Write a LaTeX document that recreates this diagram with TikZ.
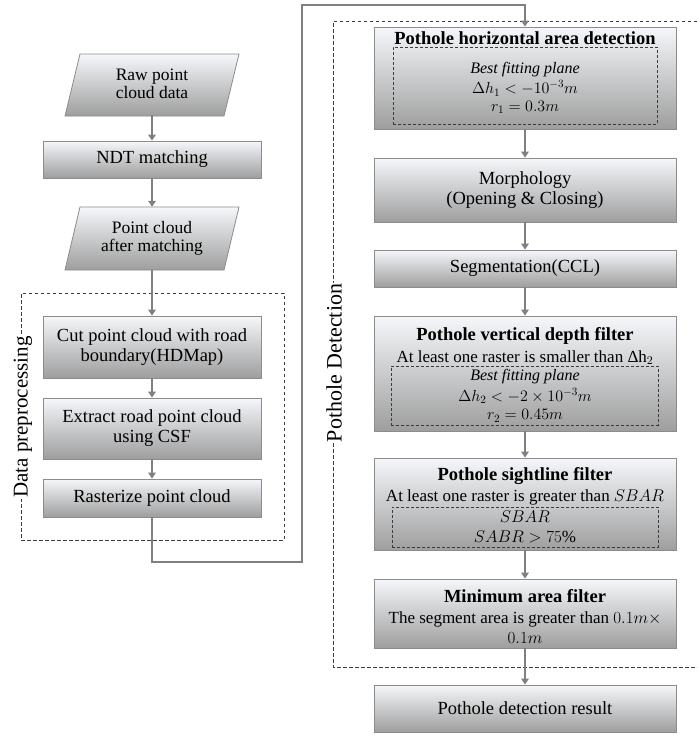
\RequirePackage{fix-cm}
\documentclass[tikz,border=0pt]{standalone}
\usepackage{fontspec}
\setmainfont{Liberation Serif}[Ligatures=TeX]
\usetikzlibrary{arrows.meta}
\definecolor{boxtop}{RGB}{245,247,250}
\definecolor{boxbot}{RGB}{158,158,158}
\definecolor{boxborder}{RGB}{140,140,140}
\definecolor{arrowc}{RGB}{128,128,128}
\definecolor{dashc}{RGB}{60,60,60}
\newcommand\mainsize{\fontsize{18.5}{20}\selectfont}
\newcommand\subsize{\fontsize{17}{20}\selectfont}
\tikzset{
  box/.style={draw=boxborder, line width=0.8pt, top color=boxtop, bottom color=boxbot,
    minimum width=302, inner sep=0, align=center, font=\mainsize},
  lbox/.style={box, minimum width=218},
  para/.style={draw=boxborder, line width=0.8pt, top color=boxtop, bottom color=boxbot},
  innerdash/.style={draw=dashc, dash pattern=on 3pt off 2pt, line width=0.9pt, inner sep=0},
  outerdash/.style={draw=dashc, dash pattern=on 3.5pt off 2.5pt, line width=0.8pt},
  flow/.style={draw=arrowc, line width=2.3pt, -{Triangle[width=7.5pt,length=6pt]}},
  txt/.style={inner sep=0, align=center, font=\mainsize},
}
\begin{document}
\begin{tikzpicture}[x=1pt,y=-1pt]
\useasboundingbox[fill=white] (0,0) rectangle (697,742);

% ---------- left column ----------
\shade[para] (80,54) -- (239,54) -- (224,116) -- (65,116) -- cycle;
\node[txt, minimum width=174, minimum height=62, font=\fontsize{17.5}{18}\selectfont] (raw) at (152,84) {Raw point\\cloud data};
\node[lbox, minimum height=37] (ndt) at (152,159.5) {NDT matching};
\shade[para] (80,207) -- (239,207) -- (224,270) -- (65,270) -- cycle;
\node[txt, minimum width=174, minimum height=63, font=\fontsize{17.5}{18}\selectfont] (pcm) at (152,238.5) {Point cloud\\after matching};

\node[outerdash, minimum width=263, minimum height=247, inner sep=0] (pre) at (152.5,416.5) {};
\node[lbox, minimum height=62] (cut) at (152,347) {Cut point cloud with road\\boundary(HDMap)};
\node[lbox, minimum height=61] (ext) at (152,428.5) {Extract road point cloud\\using CSF};
\node[lbox, minimum height=38] (ras) at (152,498) {Rasterize point cloud};
\node[fill=white, rotate=90, inner sep=1pt, font=\fontsize{21}{22}\selectfont] (prel) at (23,417) {Data preprocessing};

% ---------- right column ----------
\draw[outerdash] (697,21) -- (333,21) -- (333,667) -- (697,667);
\node[fill=white, rotate=90, inner sep=1pt, font=\fontsize{22}{23}\selectfont] (pdl) at (334,363) {Pothole Detection};

\node[box, minimum height=102] (hor) at (525,78) {};
\node[innerdash, minimum width=264, minimum height=77] (hord) at (525,85.5) {};
\node[txt, font=\bfseries\mainsize, anchor=base] (hort) at (525,44) {Pothole horizontal area detection};
\node[txt, font=\fontsize{16}{17.5}\selectfont] (horl) at (525,88) {\textit{Best fitting plane}\\[2.5pt]$\Delta h_1 < -10^{-3}m$\\$r_1 = 0.3m$};

\node[box, minimum height=64] (mor) at (525,190) {Morphology\\(Opening \& Closing)};
\node[box, minimum height=37] (seg) at (525,268.5) {Segmentation(CCL)};

\node[box, minimum height=115] (ver) at (525,373.5) {};
\node[txt, font=\fontsize{18.5}{22}\selectfont] (vert) at (525,346) {\textbf{Pothole vertical depth filter}\\{\subsize At least one raster is smaller than Δh$_2$}};
\node[innerdash, minimum width=267, minimum height=59] (verd) at (524.5,395.5) {};
\node[txt, font=\fontsize{16}{18.5}\selectfont] (verl) at (525,396) {\textit{Best fitting plane}\\[2pt]$\Delta h_2 < -2\times 10^{-3}m$\\$r_2 = 0.45m$};

\node[box, minimum height=92] (sig) at (525,504) {};
\node[txt, font=\fontsize{18.5}{21}\selectfont] (sigt) at (525,486.5) {\textbf{Pothole sightline filter}\\{\subsize At least one raster is greater than $SBAR$}};
\node[innerdash, minimum width=266, minimum height=40] (sigd) at (525,527) {};
\node[txt, font=\fontsize{17}{20}\selectfont] (sigl) at (525,527) {$SBAR$\\$SABR > 75\%$};

\node[box, minimum height=69] (mina) at (525,613.5) {};
\node[txt, font=\fontsize{18.5}{20.5}\selectfont] (minl) at (525,616.5) {\textbf{Minimum area filter}\\{\subsize The segment area is greater than $0.1m\times$}\\{\subsize $0.1m$}};

\node[box, minimum height=47] (res) at (525,708.5) {Pothole detection result};

% ---------- connectors ----------
\coordinate (c1) at (302,562);
\coordinate (c2) at (302,5);
\draw[flow] (raw.south) -- (ndt.north);
\draw[flow] (ndt.south) -- (pcm.north);
\draw[flow] (pcm.south) -- (cut.north);
\draw[flow] (cut.south) -- (ext.north);
\draw[flow] (ext.south) -- (ras.north);
\draw[flow] (ras.south) |- (c1) -- (c2) -| (hor.north);
\draw[flow] (hor.south) -- (mor.north);
\draw[flow] (mor.south) -- (seg.north);
\draw[flow] (seg.south) -- (ver.north);
\draw[flow] (ver.south) -- (sig.north);
\draw[flow] (sig.south) -- (mina.north);
\draw[flow] (mina.south) -- (res.north);
\end{tikzpicture}
\end{document}
